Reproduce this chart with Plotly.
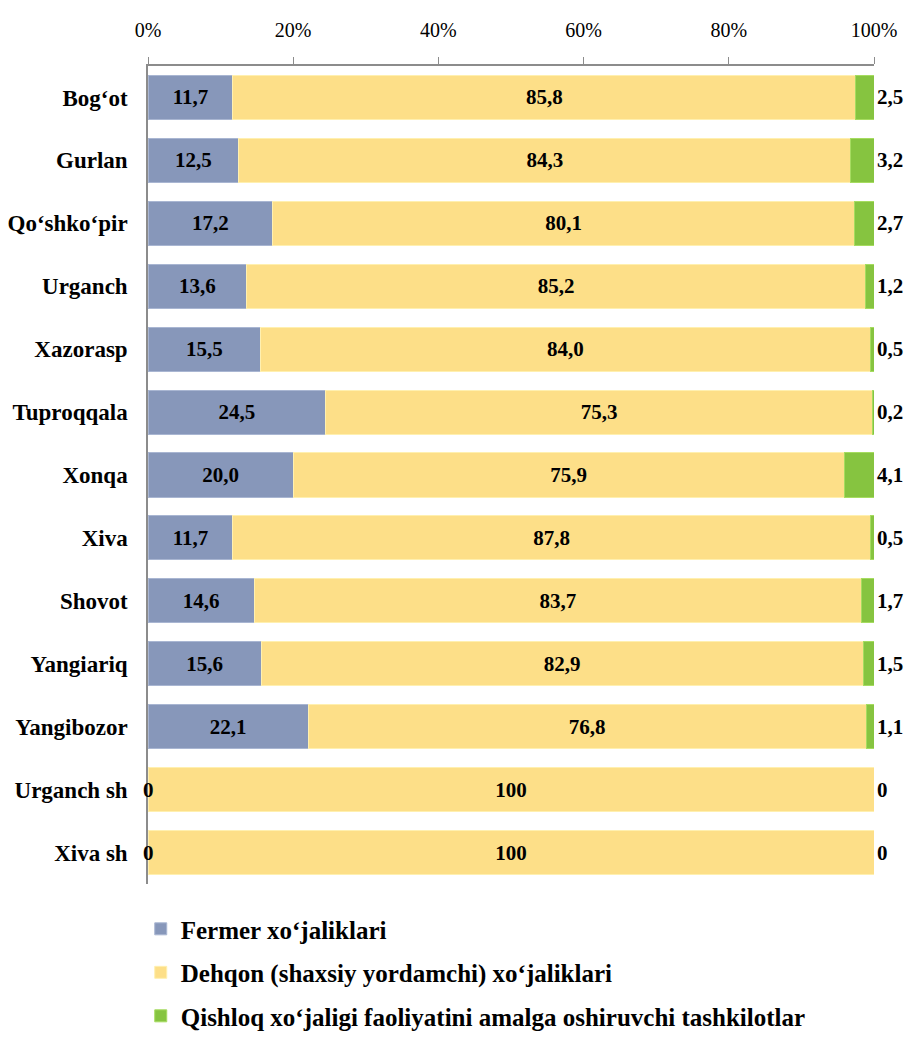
import plotly.graph_objects as go

# districts, top to bottom as in the picture
districts = ["Bog‘ot", "Gurlan", "Qo‘shko‘pir", "Urganch", "Xazorasp", "Tuproqqala",
             "Xonqa", "Xiva", "Shovot", "Yangiariq", "Yangibozor", "Urganch sh", "Xiva sh"]

fermer = [11.7, 12.5, 17.2, 13.6, 15.5, 24.5, 20.0, 11.7, 14.6, 15.6, 22.1, 0, 0]
dehqon = [85.8, 84.3, 80.1, 85.2, 84.0, 75.3, 75.9, 87.8, 83.7, 82.9, 76.8, 100, 100]
tashkilot = [2.5, 3.2, 2.7, 1.2, 0.5, 0.2, 4.1, 0.5, 1.7, 1.5, 1.1, 0, 0]

series_names = ["Fermer xo‘jaliklari",
                "Dehqon (shaxsiy yordamchi) xo‘jaliklari",
                "Qishloq xo‘jaligi faoliyatini amalga oshiruvchi tashkilotlar"]

x_ticks = [0, 20, 40, 60, 80, 100]


def fmt(v):
    if v in (0, 100):
        return str(int(v))
    return f"{v:.1f}".replace(".", ",")


FONT = "Liberation Serif"
label_font = dict(family=FONT, size=21, color="black", weight="bold")

fig = go.Figure()

fig.add_trace(go.Bar(
    y=districts, x=fermer, orientation="h", name=series_names[0], legendgroup="a",
    marker=dict(color="#8797BA", line=dict(color="#A9B6D2", width=1)),
    text=[fmt(v) if v > 0 else "" for v in fermer],
    textposition="inside", insidetextanchor="middle", constraintext="none",
    textfont=label_font, width=0.7,
))
fig.add_trace(go.Bar(
    y=districts, x=dehqon, orientation="h", name=series_names[1], legendgroup="b",
    marker=dict(color="#FDDF88", line=dict(color="#FFF0B0", width=1)),
    text=[fmt(v) for v in dehqon],
    textposition="inside", insidetextanchor="middle", constraintext="none",
    textfont=label_font, width=0.7,
))
fig.add_trace(go.Bar(
    y=districts, x=tashkilot, orientation="h", name=series_names[2], legendgroup="c",
    marker=dict(color="#86C440", line=dict(color="#A6DC60", width=1)),
    text=[fmt(v) for v in tashkilot],
    textposition="outside", constraintext="none", cliponaxis=False,
    textfont=label_font, width=0.7,
))

# zero values of the first series are shown at the left end of the bar
for d, f in zip(districts, fermer):
    if f == 0:
        fig.add_annotation(x=0, y=d, text=fmt(f), showarrow=False,
                           font=label_font, xanchor="center")

fig.update_layout(
    barmode="stack",
    width=917, height=1043,
    margin=dict(l=140, r=51, t=58, b=127),
    plot_bgcolor="white", paper_bgcolor="white",
    font=dict(family=FONT, color="black"),
    showlegend=True,
    legend=dict(
        orientation="v", x=-0.01, y=-0.027, xanchor="left", yanchor="top",
        font=dict(family=FONT, size=25, color="black", weight="bold"),
        traceorder="grouped", itemwidth=30, tracegroupgap=8,
    ),
    bargap=0.3,
)

fig.update_xaxes(
    side="top", range=[0, 100], tickvals=x_ticks,
    ticktext=[f"{v}%" for v in x_ticks],
    showgrid=False, zeroline=False, automargin=False,
    showline=True, linecolor="#8C8C8C", linewidth=1.5,
    ticks="outside", ticklen=7, tickcolor="#8C8C8C",
    ticklabelstandoff=12,
    tickfont=dict(family=FONT, size=20, color="black"),
)
fig.update_yaxes(
    autorange="reversed", showgrid=False, automargin=False,
    showline=True, linecolor="#8C8C8C", linewidth=1.5,
    ticks="", ticklabelstandoff=14,
    tickfont=dict(family=FONT, size=23, color="black", weight="bold"),
)

fig.write_html("out.html")
